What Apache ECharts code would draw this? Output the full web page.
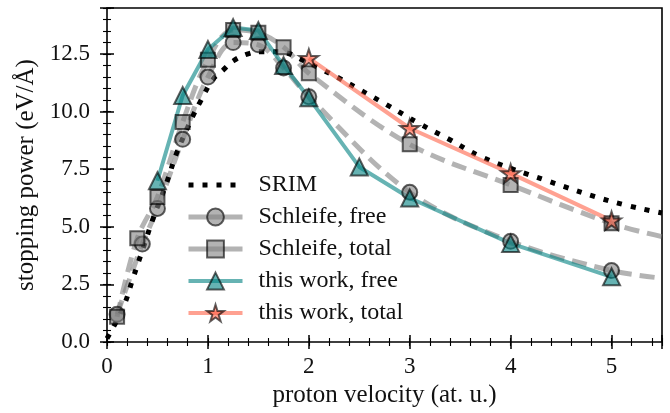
<!DOCTYPE html>
<html>
<head>
<meta charset="utf-8">
<script src="https://cdn.jsdelivr.net/npm/echarts@6/dist/echarts.min.js"></script>
<style>
  html, body { margin: 0; padding: 0; background: #fff; }
  #chart { width: 670px; height: 413px; }
</style>
</head>
<body>
<div id="chart"></div>
<script>
// SRIM reference curve
const srimV = [0, 0.16, 0.26, 0.36, 0.46, 0.59, 0.69, 0.85, 0.92, 1.05, 1.15, 1.25, 1.39, 1.52, 1.65, 1.78, 1.91, 2.14, 2.28, 2.51, 2.76, 3.1, 3.37, 3.73, 4.36, 5.0, 5.5];
const srimS = [0.15, 1.5, 2.8, 4.1, 5.4, 6.9, 8.2, 9.8, 10.4, 11.4, 11.8, 12.2, 12.5, 12.6, 12.6, 12.55, 12.3, 11.8, 11.5, 10.94, 10.33, 9.47, 8.85, 8.0, 7.0, 6.1, 5.6];

// Schleife et al., free and total stopping
const schFreeV = [0.1, 0.35, 0.5, 0.75, 1.0, 1.25, 1.5, 1.75, 2.0, 3.0, 4.0, 5.0];
const schFreeS = [1.2, 4.25, 5.8, 8.8, 11.5, 13.0, 12.9, 11.9, 10.65, 6.5, 4.37, 3.1];
const schFreeEnd = [5.5, 2.77];   // fitted curve at the right edge
const schTotalV = [0.1, 0.3, 0.5, 0.75, 1.0, 1.25, 1.5, 1.75, 2.0, 3.0, 4.0, 5.0];
const schTotalS = [1.1, 4.5, 6.3, 9.55, 12.25, 13.55, 13.43, 12.8, 11.67, 8.58, 6.82, 5.15];
const schTotalEnd = [5.5, 4.57];

// this work
const freeV = [0.5, 0.75, 1.0, 1.25, 1.5, 1.75, 2.0, 2.5, 3.0, 4.0, 5.0];
const freeS = [7.0, 10.7, 12.7, 13.65, 13.52, 12.0, 10.6, 7.6, 6.25, 4.28, 2.83];
const totalV = [2.0, 3.0, 4.0, 5.0];
const totalS = [12.32, 9.28, 7.32, 5.27];

const xTicks = [0, 1, 2, 3, 4, 5];
const yTicks = [0, 2.5, 5, 7.5, 10, 12.5];

const pairs = (xs, ys) => xs.map((x, i) => [x, ys[i]]);

function starPath() {
  const pts = [];
  for (let i = 0; i < 10; i++) {
    const a = -Math.PI / 2 + i * Math.PI / 5;
    const r = i % 2 ? 0.382 : 1;
    pts.push((r * Math.cos(a)).toFixed(4) + ' ' + (r * Math.sin(a)).toFixed(4));
  }
  return 'path://M' + pts.join(' L') + ' Z';
}

const FONT = '"Liberation Serif", "DejaVu Serif", serif';
const EDGE = 'rgba(0,0,0,0.62)';
const GRAY = 'rgba(128,128,128,0.6)';
const TEAL = 'rgba(0,128,128,0.6)';
const TOMATO = 'rgba(255,99,71,0.6)';

const X_MIN = 0, X_MAX = 5.5, Y_MIN = 0, Y_MAX = 14.5;

function xAxisDef(opts) {
  return Object.assign({
    type: 'value', position: 'bottom', min: X_MIN, max: X_MAX,
    axisLine: { show: false, onZero: false },
    splitLine: { show: false },
    axisLabel: { show: false },
    axisTick: { show: false }
  }, opts);
}
function yAxisDef(opts) {
  return Object.assign({
    type: 'value', position: 'left', min: Y_MIN, max: Y_MAX,
    axisLine: { show: false, onZero: false },
    splitLine: { show: false },
    axisLabel: { show: false },
    axisTick: { show: false }
  }, opts);
}

const chart = echarts.init(document.getElementById('chart'), null, { renderer: 'canvas' });

const option = {
  animation: false,
  backgroundColor: '#fff',
  grid: {
    left: 107, right: 8, top: 8, bottom: 71,
    show: true, borderColor: '#000', borderWidth: 1.6,
    containLabel: false, outerBoundsMode: 'none'
  },
  xAxis: [
    xAxisDef({
      interval: 1,
      name: 'proton velocity (at. u.)',
      nameLocation: 'middle', nameGap: 40,
      nameTextStyle: { fontFamily: FONT, fontSize: 25, color: '#111' },
      axisLabel: {
        show: true, margin: 13, fontFamily: FONT, fontSize: 23, color: '#111',
        showMaxLabel: false,
        formatter: v => (xTicks.indexOf(v) >= 0 ? String(v) : '')
      }
    }),
    xAxisDef({ interval: 1, offset: -7, axisTick: { show: true, length: 14, lineStyle: { color: '#000', width: 1.5 } } }),
    xAxisDef({ interval: 0.2, offset: -4, axisTick: { show: true, length: 8, lineStyle: { color: '#000', width: 1.1 } } })
  ],
  yAxis: [
    yAxisDef({
      interval: 2.5,
      name: 'stopping power (eV/Å)',
      nameLocation: 'middle', nameGap: 68, nameRotate: 90,
      nameTextStyle: { fontFamily: FONT, fontSize: 25, color: '#111' },
      axisLabel: {
        show: true, margin: 17, fontFamily: FONT, fontSize: 23, color: '#111',
        showMaxLabel: false,
        formatter: v => (yTicks.indexOf(v) >= 0 ? v.toFixed(1) : '')
      }
    }),
    yAxisDef({ interval: 2.5, offset: -7, axisTick: { show: true, length: 14, lineStyle: { color: '#000', width: 1.5 } } }),
    yAxisDef({ interval: 0.5, offset: -4, axisTick: { show: true, length: 8, lineStyle: { color: '#000', width: 1.1 } } })
  ],
  legend: {
    orient: 'vertical',
    left: 186, top: 173,
    padding: 0,
    itemWidth: 54, itemHeight: 21, itemGap: 8,
    textStyle: { fontFamily: FONT, fontSize: 24, color: '#111', padding: [0, 0, 0, 11] },
    selectedMode: false,
    data: [
      { name: 'SRIM', lineStyle: { width: 5 }, itemStyle: { opacity: 0 } },
      { name: 'Schleife, free', lineStyle: { width: 5, type: 'solid' }, itemStyle: { borderWidth: 2 } },
      { name: 'Schleife, total', lineStyle: { width: 5, type: 'solid' }, itemStyle: { borderWidth: 2 } },
      { name: 'this work, free', lineStyle: { width: 4 }, itemStyle: { borderWidth: 2 } },
      { name: 'this work, total', lineStyle: { width: 4 }, itemStyle: { borderWidth: 2 } }
    ]
  },
  series: [
    {
      name: 'Schleife, free', type: 'line', xAxisIndex: 0, yAxisIndex: 0,
      data: pairs(schFreeV, schFreeS).concat([{ value: schFreeEnd, symbol: 'none' }]),
      smooth: 0.35,
      symbol: 'circle', symbolSize: 15,
      lineStyle: { color: GRAY, width: 5, type: [15, 8], cap: 'butt' },
      itemStyle: { color: GRAY, borderColor: EDGE, borderWidth: 2 }
    },
    {
      name: 'Schleife, total', type: 'line', xAxisIndex: 0, yAxisIndex: 0,
      data: pairs(schTotalV, schTotalS).concat([{ value: schTotalEnd, symbol: 'none' }]),
      smooth: 0.35,
      symbol: 'rect', symbolSize: 14,
      lineStyle: { color: GRAY, width: 5, type: [15, 8], cap: 'butt' },
      itemStyle: { color: GRAY, borderColor: EDGE, borderWidth: 2 }
    },
    {
      name: 'SRIM', type: 'line', xAxisIndex: 0, yAxisIndex: 0,
      data: pairs(srimV, srimS),
      smooth: 0.4, symbol: 'none',
      lineStyle: { color: '#000', width: 5, type: [5, 9], cap: 'butt' },
      itemStyle: { color: 'rgba(0,0,0,0)', borderWidth: 0 }
    },
    {
      name: 'this work, free', type: 'line', xAxisIndex: 0, yAxisIndex: 0,
      data: pairs(freeV, freeS),
      symbol: 'triangle', symbolSize: 17,
      lineStyle: { color: TEAL, width: 4 },
      itemStyle: { color: TEAL, borderColor: EDGE, borderWidth: 2 }
    },
    {
      name: 'this work, total', type: 'line', xAxisIndex: 0, yAxisIndex: 0,
      data: pairs(totalV, totalS),
      symbol: starPath(), symbolSize: 19, symbolKeepAspect: true,
      lineStyle: { color: TOMATO, width: 4 },
      itemStyle: { color: TOMATO, borderColor: EDGE, borderWidth: 2 }
    }
  ]
};

chart.setOption(option);
</script>
</body>
</html>
